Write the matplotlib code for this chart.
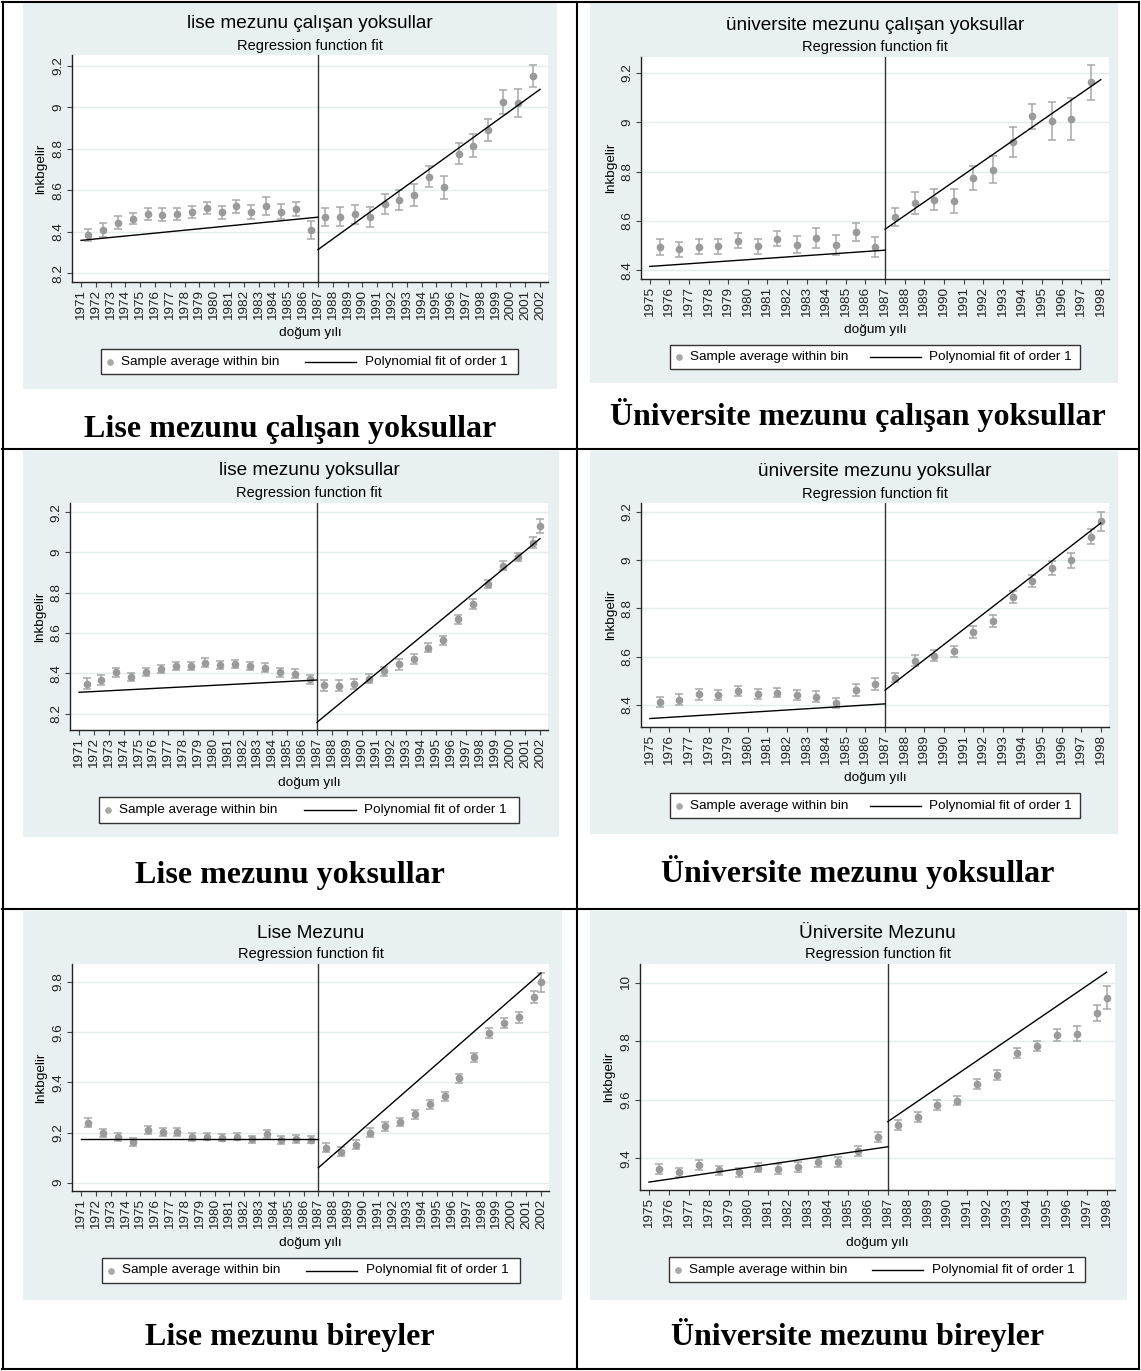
import numpy as np
import matplotlib.pyplot as plt
from matplotlib.patches import Rectangle
from matplotlib.lines import Line2D

plt.rcParams['font.family'] = ['Liberation Sans', 'DejaVu Sans']

W, H = 1141, 1371

# ---------------- veriler ----------------
esik = 1987

lise_yillar = list(range(1971, 2003))
uni_yillar = list(range(1975, 1999))

lise_bin_sol = [1971.5, 1972.5, 1973.5, 1974.5, 1975.5, 1976.5, 1977.5, 1978.5,
                1979.5, 1980.5, 1981.5, 1982.5, 1983.5, 1984.5, 1985.5, 1986.5]
lise_bin_sag = [1987.5, 1988.5, 1989.5, 1990.5, 1991.5, 1992.5, 1993.5, 1994.5,
                1995.5, 1996.5, 1997.5, 1998.5, 1999.5, 2000.5, 2001.5]
lise_bin_sag_2002 = lise_bin_sag + [2002]
uni_bin_sol = [1975.5, 1976.5, 1977.5, 1978.5, 1979.5, 1980.5, 1981.5, 1982.5,
               1983.5, 1984.5, 1985.5, 1986.5]
uni_bin_sag = [1987.5, 1988.5, 1989.5, 1990.5, 1991.5, 1992.5, 1993.5, 1994.5,
               1995.5, 1996.5, 1997.5]
uni_bin_sag_1998 = uni_bin_sag + [1998]

lise_fit_sol_x = [1971, 1987]
lise_fit_sag_x = [1987, 2002]
uni_fit_sol_x = [1975, 1987]
uni_fit_sag_x = [1987, 1998]

# 1) lise mezunu çalışan yoksullar
p1_ort_sol = [8.385, 8.409, 8.444, 8.462, 8.485, 8.481, 8.485, 8.494,
              8.515, 8.493, 8.522, 8.494, 8.525, 8.497, 8.510, 8.409]
p1_ci_sol = [0.030, 0.034, 0.030, 0.027, 0.030, 0.031, 0.031, 0.029,
             0.030, 0.032, 0.031, 0.035, 0.043, 0.036, 0.035, 0.044]
p1_ort_sag = [8.470, 8.473, 8.485, 8.472, 8.534, 8.552, 8.578, 8.666,
              8.615, 8.776, 8.816, 8.891, 9.025, 9.020, 9.153]
p1_ci_sag = [0.045, 0.048, 0.046, 0.048, 0.047, 0.049, 0.052, 0.050,
             0.055, 0.050, 0.056, 0.055, 0.058, 0.068, 0.054]
p1_fit_sol = [8.358, 8.470]
p1_fit_sag = [8.313, 9.087]

# 2) üniversite mezunu çalışan yoksullar
p2_ort_sol = [8.495, 8.484, 8.495, 8.497, 8.520, 8.496, 8.527, 8.503,
              8.530, 8.501, 8.554, 8.495]
p2_ci_sol = [0.032, 0.031, 0.031, 0.030, 0.030, 0.032, 0.030, 0.034,
             0.042, 0.040, 0.037, 0.040]
p2_ort_sag = [8.616, 8.673, 8.686, 8.682, 8.774, 8.808, 8.919, 9.024,
              9.004, 9.015, 9.162]
p2_ci_sag = [0.038, 0.045, 0.043, 0.049, 0.047, 0.055, 0.060, 0.051,
             0.077, 0.085, 0.071]
p2_fit_sol = [8.415, 8.481]
p2_fit_sag = [8.566, 9.173]

# 3) lise mezunu yoksullar
p3_ort_sol = [8.349, 8.366, 8.405, 8.380, 8.407, 8.422, 8.435, 8.438,
              8.453, 8.442, 8.445, 8.437, 8.428, 8.405, 8.399, 8.371]
p3_ci_sol = [0.026, 0.024, 0.022, 0.020, 0.021, 0.021, 0.020, 0.020,
             0.021, 0.020, 0.020, 0.021, 0.022, 0.022, 0.023, 0.022]
p3_ort_sag = [8.341, 8.339, 8.346, 8.374, 8.410, 8.445, 8.470, 8.528,
              8.563, 8.669, 8.745, 8.842, 8.933, 8.976, 9.049, 9.132]
p3_ci_sag = [0.027, 0.027, 0.025, 0.024, 0.023, 0.026, 0.024, 0.023,
             0.022, 0.022, 0.024, 0.021, 0.022, 0.020, 0.026, 0.035]
p3_fit_sol = [8.306, 8.367]
p3_fit_sag = [8.157, 9.068]

# 4) üniversite mezunu yoksullar
p4_ort_sol = [8.412, 8.422, 8.443, 8.441, 8.457, 8.445, 8.451, 8.441,
              8.434, 8.409, 8.461, 8.487]
p4_ci_sol = [0.021, 0.023, 0.021, 0.021, 0.020, 0.021, 0.020, 0.022,
             0.024, 0.021, 0.024, 0.024]
p4_ort_sag = [8.513, 8.583, 8.604, 8.622, 8.701, 8.746, 8.848, 8.913,
              8.967, 9.000, 9.097, 9.161]
p4_ci_sag = [0.020, 0.023, 0.024, 0.024, 0.025, 0.025, 0.026, 0.026,
             0.029, 0.031, 0.032, 0.039]
p4_fit_sol = [8.343, 8.404]
p4_fit_sag = [8.461, 9.154]

# 5) Lise Mezunu (tüm bireyler)
p5_ort_sol = [9.239, 9.200, 9.183, 9.163, 9.209, 9.203, 9.203, 9.183,
              9.183, 9.180, 9.183, 9.173, 9.196, 9.172, 9.173, 9.172]
p5_ci_sol = [0.018, 0.016, 0.015, 0.016, 0.016, 0.016, 0.016, 0.015,
             0.014, 0.015, 0.014, 0.015, 0.016, 0.016, 0.016, 0.015]
p5_ort_sag = [9.140, 9.123, 9.152, 9.200, 9.225, 9.243, 9.272, 9.313,
              9.345, 9.416, 9.500, 9.596, 9.636, 9.660, 9.740, 9.799]
p5_ci_sag = [0.018, 0.018, 0.017, 0.017, 0.017, 0.017, 0.018, 0.018,
             0.018, 0.019, 0.018, 0.021, 0.021, 0.022, 0.025, 0.038]
p5_fit_sol = [9.176, 9.176]
p5_fit_sag = [9.060, 9.836]

# 6) Üniversite Mezunu (tüm bireyler)
p6_ort_sol = [9.363, 9.352, 9.377, 9.358, 9.351, 9.368, 9.363, 9.371,
              9.386, 9.386, 9.423, 9.472]
p6_ci_sol = [0.017, 0.016, 0.016, 0.016, 0.016, 0.016, 0.017, 0.017,
             0.016, 0.017, 0.017, 0.017]
p6_ort_sag = [9.514, 9.541, 9.583, 9.597, 9.655, 9.685, 9.760, 9.785,
              9.822, 9.826, 9.897, 9.949]
p6_ci_sag = [0.017, 0.017, 0.017, 0.016, 0.017, 0.018, 0.018, 0.018,
             0.022, 0.026, 0.028, 0.039]
p6_fit_sol = [9.318, 9.439]
p6_fit_sag = [9.525, 10.037]

basliklar = ["lise mezunu çalışan yoksullar", "üniversite mezunu çalışan yoksullar",
             "lise mezunu yoksullar", "üniversite mezunu yoksullar",
             "Lise Mezunu", "Üniversite Mezunu"]
altyazilar = ["Lise mezunu çalışan yoksullar", "Üniversite mezunu çalışan yoksullar",
              "Lise mezunu yoksullar", "Üniversite mezunu yoksullar",
              "Lise mezunu bireyler", "Üniversite mezunu bireyler"]

y_tikler = [[8.2, 8.4, 8.6, 8.8, 9.0, 9.2],
            [8.4, 8.6, 8.8, 9.0, 9.2],
            [8.2, 8.4, 8.6, 8.8, 9.0, 9.2],
            [8.4, 8.6, 8.8, 9.0, 9.2],
            [9.0, 9.2, 9.4, 9.6, 9.8],
            [9.4, 9.6, 9.8, 10.0]]

# paneller: veri tablosu (yukarıdaki listelerden)
paneller = [
    (lise_yillar, lise_bin_sol, p1_ort_sol, p1_ci_sol, lise_bin_sag, p1_ort_sag, p1_ci_sag,
     lise_fit_sol_x, p1_fit_sol, lise_fit_sag_x, p1_fit_sag),
    (uni_yillar, uni_bin_sol, p2_ort_sol, p2_ci_sol, uni_bin_sag, p2_ort_sag, p2_ci_sag,
     uni_fit_sol_x, p2_fit_sol, uni_fit_sag_x, p2_fit_sag),
    (lise_yillar, lise_bin_sol, p3_ort_sol, p3_ci_sol, lise_bin_sag_2002, p3_ort_sag, p3_ci_sag,
     lise_fit_sol_x, p3_fit_sol, lise_fit_sag_x, p3_fit_sag),
    (uni_yillar, uni_bin_sol, p4_ort_sol, p4_ci_sol, uni_bin_sag_1998, p4_ort_sag, p4_ci_sag,
     uni_fit_sol_x, p4_fit_sol, uni_fit_sag_x, p4_fit_sag),
    (lise_yillar, lise_bin_sol, p5_ort_sol, p5_ci_sol, lise_bin_sag_2002, p5_ort_sag, p5_ci_sag,
     lise_fit_sol_x, p5_fit_sol, lise_fit_sag_x, p5_fit_sag),
    (uni_yillar, uni_bin_sol, p6_ort_sol, p6_ci_sol, uni_bin_sag_1998, p6_ort_sag, p6_ci_sag,
     uni_fit_sol_x, p6_fit_sol, uni_fit_sag_x, p6_fit_sag),
]

# ---------------- yerleşim (piksel) ----------------
gri_kutu = [(23, 3, 557, 389), (590, 3, 1118, 383),
            (23, 451, 559, 837), (590, 451, 1118, 834),
            (23, 911, 562, 1300), (590, 911, 1127, 1300)]
eksen_kutu = [(72, 55, 548, 282), (641, 57, 1109, 279),
              (70, 503, 548, 730), (641, 503, 1109, 727),
              (72, 964, 549, 1191), (640, 964, 1115, 1190)]
ylimler = [(8.157, 9.253), (8.364, 9.265), (8.119, 9.245),
           (8.308, 9.237), (8.967, 9.872), (9.291, 10.065)]
baslik_y = [(23, 46), (25, 47), (470, 493), (472, 494), (933, 954), (933, 954)]
ylabel_x = [41, 611, 40, 611, 41, 609]
xlabel_y = [333, 330, 783, 778, 1243, 1243]
legend_kutu = [(101, 349, 518, 374), (670, 345, 1080, 369),
               (99, 797, 519, 823), (670, 793, 1080, 818),
               (102, 1258, 520, 1283), (669, 1257, 1085, 1282)]
alt_yazi_xy = [(290, 430), (858, 415), (290, 875), (858, 872), (290, 1337), (858, 1335)]

gri = '#E8F0F2'
nokta_renk = '#9A9A9A'
fs = 9.7


def fx(px):
    return px / W


def fy(py):
    return 1 - py / H


fig = plt.figure(figsize=(W / 100, H / 100), dpi=100)

for i, (yillar, bx_sol, ort_sol, ci_sol, bx_sag, ort_sag, ci_sag,
        fx_sol, fit_sol, fx_sag, fit_sag) in enumerate(paneller):
    gx0, gy0, gx1, gy1 = gri_kutu[i]
    fig.add_artist(Rectangle((fx(gx0), fy(gy1)), (gx1 - gx0) / W, (gy1 - gy0) / H,
                             transform=fig.transFigure, facecolor=gri,
                             edgecolor='none', zorder=-5))

    ax0, ay0, ax1, ay1 = eksen_kutu[i]
    ax = fig.add_axes([fx(ax0), fy(ay1), (ax1 - ax0) / W, (ay1 - ay0) / H])
    ax.set_facecolor('white')

    # noktalar + güven aralıkları
    for bx, ort, ci in [(bx_sol, ort_sol, ci_sol), (bx_sag, ort_sag, ci_sag)]:
        ax.errorbar(bx, ort, yerr=ci, fmt='o', ms=4.5, color=nokta_renk,
                    ecolor='#A8A8A8', elinewidth=1.1, capsize=3.2, capthick=1.1, zorder=3)
    # fit doğruları + eşik
    ax.plot(fx_sol, fit_sol, color='black', lw=1.0, zorder=4)
    ax.plot(fx_sag, fit_sag, color='black', lw=1.0, zorder=4)
    ax.axvline(esik, color='#333333', lw=1.0, zorder=2)

    # Stata kenar boşlukları
    if yillar[0] == 1971:
        ax.set_xlim(1970.39, 2002.54)
    else:
        ax.set_xlim(1974.55, 1998.42)
    ax.set_ylim(*ylimler[i])

    ax.set_xticks(yillar)
    ax.set_xticklabels([str(y) for y in yillar], rotation=90, fontsize=fs, color='#222222')
    ax.set_yticks(y_tikler[i])
    ax.set_yticklabels([f"{v:g}" for v in y_tikler[i]], rotation=90, fontsize=fs,
                       va='center', color='#222222')
    ax.tick_params(axis='both', direction='out', length=3.6, width=0.8,
                   color='#444444', pad=2)
    ax.yaxis.grid(True, color='#E4ECEE', lw=1.0)
    ax.set_axisbelow(True)
    for s in ['top', 'right']:
        ax.spines[s].set_visible(False)
    for s in ['left', 'bottom']:
        ax.spines[s].set_color('#222222')
        ax.spines[s].set_linewidth(1.0)

    # başlıklar
    xc = fx((ax0 + ax1) / 2)
    fig.text(xc, fy(baslik_y[i][0]), basliklar[i], ha='center', va='center', fontsize=13.7)
    fig.text(xc, fy(baslik_y[i][1]), "Regression function fit", ha='center', va='center',
             fontsize=10.5)
    fig.text(fx(ylabel_x[i]), fy((ay0 + ay1) / 2), "lnkbgelir", rotation=90,
             ha='center', va='center', fontsize=fs)
    fig.text(xc, fy(xlabel_y[i]), "doğum yılı", ha='center', va='center', fontsize=fs)

    # lejant
    lx0, ly0, lx1, ly1 = legend_kutu[i]
    lw_ = lx1 - lx0
    lyc = fy((ly0 + ly1) / 2)
    fig.add_artist(Rectangle((fx(lx0), fy(ly1)), lw_ / W, (ly1 - ly0) / H,
                             transform=fig.transFigure, facecolor='white',
                             edgecolor='#333333', lw=1.0, zorder=2))
    fig.add_artist(Line2D([fx(lx0 + 0.022 * lw_)], [lyc], marker='o', ms=3.8,
                          color='#A8A8A8', transform=fig.transFigure, zorder=3))
    fig.text(fx(lx0 + 0.048 * lw_), lyc, "Sample average within bin", ha='left',
             va='center', fontsize=fs, zorder=3)
    fig.add_artist(Line2D([fx(lx0 + 0.489 * lw_), fx(lx0 + 0.611 * lw_)], [lyc, lyc],
                          color='black', lw=1.0, transform=fig.transFigure, zorder=3))
    fig.text(fx(lx0 + 0.632 * lw_), lyc, "Polynomial fit of order 1", ha='left',
             va='center', fontsize=fs, zorder=3)

    # tablo altyazısı
    cx, cy = alt_yazi_xy[i]
    fig.text(fx(cx), fy(cy), altyazilar[i], ha='center', va='center', fontsize=23,
             fontweight='bold', family=['Liberation Serif', 'DejaVu Serif'])

# tablo çizgileri
kalin = 1.5
cizgiler = [((2, 1139), (2, 2)), ((2, 1139), (1369, 1369)),
            ((3, 3), (2, 1369)), ((1139, 1139), (2, 1369)),
            ((576.5, 576.5), (2, 1369)),
            ((2, 1139), (449, 449)), ((2, 1139), (909, 909))]
for xs, ys in cizgiler:
    fig.add_artist(Line2D([fx(xs[0]), fx(xs[1])], [fy(ys[0]), fy(ys[1])],
                          color='black', lw=kalin, transform=fig.transFigure, zorder=10))

fig.savefig("out.png", dpi=100, facecolor='white')
